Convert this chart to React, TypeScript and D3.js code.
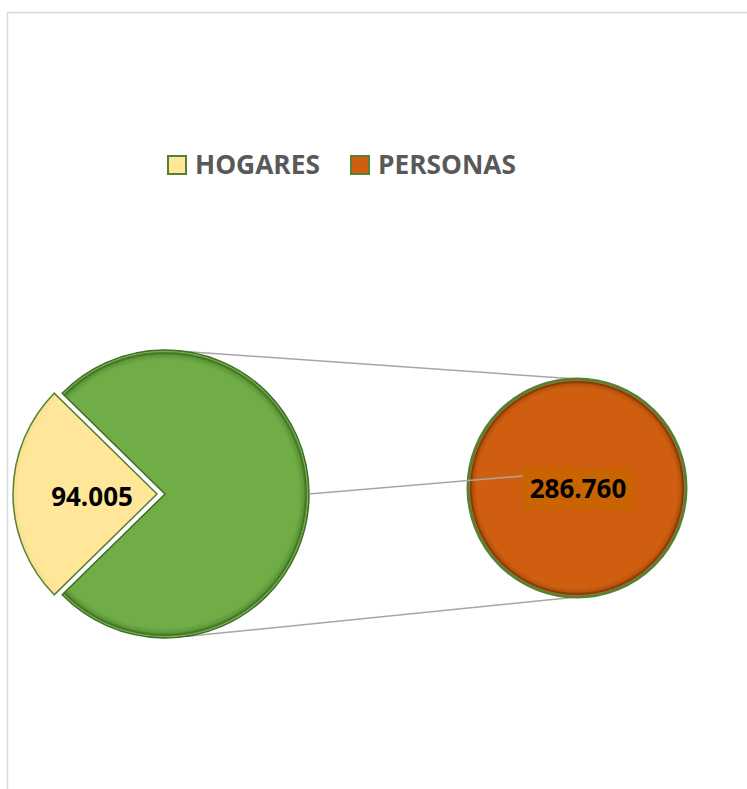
import React from "react";
import * as d3 from "d3";

const categories = ["HOGARES", "PERSONAS"];
const values = [94005, 286760];
const labels = ["94.005", "286.760"];
const colors = ["#FFE699", "#CF5E10"];
const otherColor = "#70AD47";

export default function App() {
  const W = 747, H = 789;
  const main = { cx: 165, cy: 494, r: 144 };
  const sec = { cx: 577, cy: 488, r: 109 };

  const total = d3.sum(values);
  const yellowAng = (values[0] / total) * 2 * Math.PI;
  const start = (3 * Math.PI) / 2 - yellowAng / 2;

  // main pie: HOGARES + "other" (PERSONAS)
  const pie = d3.pie<number>().sort(null).startAngle(start).endAngle(start + 2 * Math.PI);
  const arcs = pie(values);
  const arc = d3.arc<d3.PieArcDatum<number>>().innerRadius(0).outerRadius(main.r);

  // secondary pie holds only PERSONAS
  const secArcs = d3.pie<number>().sort(null)([values[1]]);
  const secArc = d3.arc<d3.PieArcDatum<number>>().innerRadius(0).outerRadius(sec.r);

  const explode = 8;
  const mid = (arcs[0].startAngle + arcs[0].endAngle) / 2;
  const ex = Math.sin(mid) * explode, ey = -Math.cos(mid) * explode;

  const topA = 0.14;
  const p1 = [main.cx + main.r * Math.sin(topA), main.cy - main.r * Math.cos(topA)];
  const p2 = [main.cx + main.r * Math.sin(Math.PI - topA), main.cy - main.r * Math.cos(Math.PI - topA)];

  const font = "'Open Sans', 'Liberation Sans', sans-serif";
  const yc = arc.centroid(arcs[0]);

  return (
    <svg width={W} height={H} style={{ position: "absolute", left: 0, top: 0 }} fontFamily={font}>
      <defs>
        <radialGradient id="gGreen" gradientUnits="userSpaceOnUse" cx={0} cy={0} r={main.r}>
          <stop offset="0.93" stopColor={otherColor} />
          <stop offset="0.965" stopColor="#5e9839" />
          <stop offset="0.98" stopColor="#3f6e24" />
          <stop offset="0.992" stopColor="#7dbb52" />
          <stop offset="1" stopColor="#5c8f3a" />
        </radialGradient>
        <radialGradient id="gYellow" gradientUnits="userSpaceOnUse" cx={0} cy={0} r={main.r}>
          <stop offset="0.96" stopColor={colors[0]} />
          <stop offset="1" stopColor="#f5dc90" />
        </radialGradient>
        <radialGradient id="gOrange" gradientUnits="userSpaceOnUse" cx={sec.cx} cy={sec.cy} r={sec.r}>
          <stop offset="0.92" stopColor={colors[1]} />
          <stop offset="0.955" stopColor="#b8520d" />
          <stop offset="0.975" stopColor="#7a3606" />
          <stop offset="0.99" stopColor="#d9722a" />
          <stop offset="1" stopColor="#c25a10" />
        </radialGradient>
      </defs>

      <rect x={7.5} y={12.5} width={W} height={H} fill="#fff" stroke="#d9d9d9" strokeWidth={1.5} />

      {/* legend */}
      {categories.map((c, i) => {
        const lx = [168, 351][i];
        const tl = [125, 138][i];
        return (
          <g key={c}>
            <rect x={lx} y={156} width={18} height={18} fill={colors[i]} stroke="#548235" strokeWidth={2} />
            <text x={lx + 27} y={174} fontSize={26} fontWeight="bold" fill="#595959"
              textLength={tl} lengthAdjust="spacingAndGlyphs">{c}</text>
          </g>
        );
      })}

      {/* connector lines */}
      <line x1={p1[0]} y1={p1[1]} x2={sec.cx} y2={sec.cy - sec.r} stroke="#a6a6a6" strokeWidth={1.5} />
      <line x1={p2[0]} y1={p2[1]} x2={sec.cx} y2={sec.cy + sec.r} stroke="#a6a6a6" strokeWidth={1.5} />

      {/* main pie */}
      <g transform={`translate(${main.cx},${main.cy})`}>
        <path d={arc(arcs[1]) || ""} fill="url(#gGreen)" stroke="#3f6e24" strokeWidth={1.5} />
        <g transform={`translate(${ex},${ey})`}>
          <path d={arc(arcs[0]) || ""} fill={colors[0]} stroke="#fff" strokeWidth={4} />
          <path d={arc(arcs[0]) || ""} fill="url(#gYellow)" stroke="#548235" strokeWidth={1.5} />
        </g>
      </g>

      {/* secondary pie */}
      <g transform={`translate(${sec.cx},${sec.cy})`}>
        {secArcs.map((a, i) => (
          <path key={i} d={secArc(a) || ""} fill={colors[1]} stroke="#548235" strokeWidth={3} />
        ))}
      </g>
      <circle cx={sec.cx} cy={sec.cy} r={sec.r - 1.5} fill="url(#gOrange)" />

      {/* leader line */}
      <line x1={main.cx + main.r} y1={main.cy} x2={523} y2={476} stroke="#a6a6a6" strokeWidth={1.5} />

      {/* data labels */}
      <text x={main.cx + ex + yc[0] + 7} y={main.cy + 12} fontSize={26} fontWeight="bold" textAnchor="middle" fill="#000">{labels[0]}</text>
      <rect x={523} y={468} width={111} height={42} fill="#C96400" />
      <text x={578} y={498} fontSize={26} fontWeight="bold" textAnchor="middle" fill="#000">{labels[1]}</text>
    </svg>
  );
}
